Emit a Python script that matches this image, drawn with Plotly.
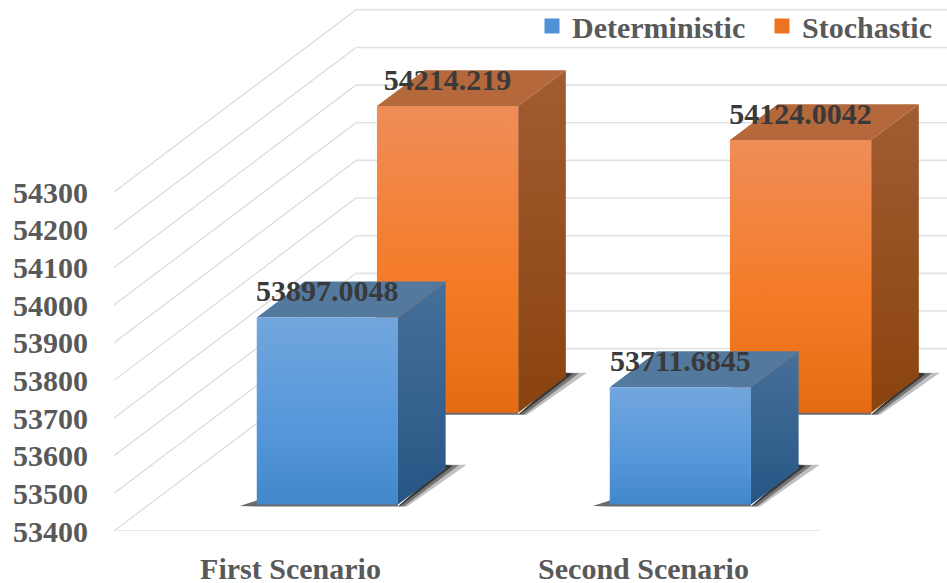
import plotly.graph_objects as go

categories = ["First Scenario", "Second Scenario"]
deterministic = [53897.0048, 53711.6845]
stochastic = [54214.219, 54124.0042]
deterministic_labels = ["53897.0048", "53711.6845"]
stochastic_labels = ["54214.219", "54124.0042"]
y_ticks = [53400, 53500, 53600, 53700, 53800, 53900, 54000, 54100, 54200, 54300]

W, H = 947, 583
LEFT, FLOOR = 114, 531.5
PX_PER_CAT = 353.0
PX_PER_VAL = 0.3769
BASE = y_ticks[0]
X0 = -0.5
X_MAX = X0 + (W - LEFT) / PX_PER_CAT
Y_MAX = BASE + FLOOR / PX_PER_VAL
DX = 242 / PX_PER_CAT
DY = 182.5 / PX_PER_VAL
BAR_W = 141.2 / PX_PER_CAT
DEPTH = 0.197
FONT = "Liberation Serif"


def project(x, v, z):
    return x + z * DX, v + z * DY


def grad(top, bottom, mid=None, kind="vertical"):
    # colour position 0 is the bottom of the polygon
    scale = [[0, bottom], [1, top]]
    if mid:
        scale = [[0, bottom], [0.4, mid], [1, top]]
    return dict(type=kind, colorscale=scale)


def poly(pts, gradient=None, color=None):
    xs = [p[0] for p in pts] + [pts[0][0]]
    ys = [p[1] for p in pts] + [pts[0][1]]
    kw = dict(fillgradient=gradient) if gradient else dict(fillcolor=color)
    return go.Scatter(x=xs, y=ys, mode="lines", fill="toself", line=dict(width=0),
                      showlegend=False, hoverinfo="skip", **kw)


fig = go.Figure()

# walls / grid
for v in y_ticks:
    xb, yb = project(X0, v, 1)
    fig.add_trace(go.Scatter(x=[X0, xb], y=[v, yb], mode="lines", cliponaxis=False,
                             line=dict(color="#dadada", width=1.2), showlegend=False, hoverinfo="skip"))
    fig.add_trace(go.Scatter(x=[xb, X_MAX], y=[yb, yb], mode="lines", cliponaxis=False,
                             line=dict(color="#e2e2e2", width=1.6), showlegend=False, hoverinfo="skip"))
fig.add_trace(go.Scatter(x=[X0, 1.5], y=[BASE, BASE], mode="lines", cliponaxis=False,
                         line=dict(color="#e2e2e2", width=1.6), showlegend=False, hoverinfo="skip"))


def add_bar(cat, val, z0, shift, st):
    xl = cat - BAR_W / 2 + shift
    xr = cat + BAR_W / 2 + shift
    z1 = z0 + DEPTH
    fl_b = project(xl, BASE, z0)
    fr_b = project(xr, BASE, z0)
    fr_t = project(xr, val, z0)
    fl_t = project(xl, val, z0)
    br_b = project(xr, BASE, z1)
    br_t = project(xr, val, z1)
    bl_t = project(xl, val, z1)
    px_x = 1 / PX_PER_CAT
    px_y = 1 / PX_PER_VAL
    # shadows
    tip = (br_b[0] + 21 * px_x, br_b[1] + 4 * px_y)
    tip_mid = (br_b[0] + 13 * px_x, br_b[1] + 3.5 * px_y)
    tip_in = (br_b[0] + 7 * px_x, br_b[1] + 3 * px_y)
    low = (fr_b[0], fr_b[1] - 2 * px_y)
    corner = (br_b[0], br_b[1] + 4 * px_y)
    fig.add_trace(poly([low, corner, tip, (fr_b[0] + 9 * px_x, fr_b[1] - 2 * px_y)], color="rgba(130,130,130,0.5)"))
    fig.add_trace(poly([low, corner, tip_mid, (fr_b[0] + 6 * px_x, fr_b[1] - 2 * px_y)], color="rgba(80,80,80,0.65)"))
    fig.add_trace(poly([low, corner, tip_in, (fr_b[0] + 3 * px_x, fr_b[1] - 1 * px_y)], color="rgba(45,45,45,0.85)"))
    fig.add_trace(poly([(fl_b[0] - 17 * px_x, fl_b[1] - 1.5 * px_y), (fl_b[0], fl_b[1] + 4 * px_y),
                        (fr_b[0], fr_b[1] + 4 * px_y), (fr_b[0], fr_b[1] - 2 * px_y),
                        (fl_b[0], fl_b[1] - 2 * px_y)],
                       color="rgba(70,70,70,0.8)"))
    # faces
    fig.add_trace(poly([fr_b, br_b, br_t, fr_t], gradient=grad(*st["side"])))
    fig.add_trace(poly([fl_t, fr_t, br_t, bl_t], color=st["top"]))
    fig.add_trace(poly([fl_b, fr_b, fr_t, fl_t], gradient=grad(*st["front"])))


BLUE = dict(front=("#72a6dd", "#4287cb", "#5597da"), side=("#47709a", "#275684"), top="#53799f")
ORANGE = dict(front=("#ef8d58", "#e46b14", "#f57a25"), side=("#a25c33", "#8a430d"), top="#b4683b")

for i in range(len(categories)):
    add_bar(i, stochastic[i], 0.649, 0, ORANGE)
for i in range(len(categories)):
    add_bar(i, deterministic[i], 0.145, 0.005, BLUE)

LABEL_UP = 23.5 / PX_PER_VAL
for vals, labels, z, shift in [(stochastic, stochastic_labels, 0.649, 0),
                               (deterministic, deterministic_labels, 0.145, 0.005)]:
    xs, ys = [], []
    for i, v in enumerate(vals):
        x, y = project(i + shift, v, z)
        xs.append(x)
        ys.append(y + LABEL_UP)
    fig.add_trace(go.Scatter(x=xs, y=ys, text=labels, mode="text", textposition="middle center",
                             textfont=dict(family=FONT, size=30, color="#3a3a3a", weight="bold"),
                             showlegend=False, hoverinfo="skip"))

# legend entries, one legend each so that both can be placed
for name, col, leg in [("Deterministic", "#4f93d6", "legend"), ("Stochastic", "#ee7320", "legend2")]:
    fig.add_trace(go.Scatter(x=[None], y=[None], mode="markers", name=name, legend=leg,
                             marker=dict(symbol="square", size=15, color=col)))


def legend_at(px):
    return dict(x=(px - LEFT) / (W - LEFT), xanchor="left", y=1, yanchor="top",
                bgcolor="rgba(0,0,0,0)", borderwidth=0,
                font=dict(family=FONT, size=30, color="#595959", weight="bold"))


fig.update_layout(
    width=W, height=H, autosize=False,
    margin=dict(l=LEFT, r=0, t=0, b=H - FLOOR, pad=0),
    paper_bgcolor="white", plot_bgcolor="white",
    font=dict(family=FONT, size=30, color="#595959", weight="bold"),
    showlegend=True,
    legend=legend_at(532),
    legend2=legend_at(762),
    xaxis=dict(range=[X0, X_MAX], tickmode="array", tickvals=list(range(len(categories))),
               ticktext=categories, showgrid=False, zeroline=False, showline=False,
               ticks="", tickangle=0, ticklabelstandoff=17, automargin=False),
    yaxis=dict(range=[BASE, Y_MAX], tickmode="array", tickvals=y_ticks,
               ticktext=[str(t) for t in y_ticks], showgrid=False, zeroline=False,
               showline=False, ticks="", ticklabelstandoff=25, automargin=False),
)

# the page's default body margin would shift and clip the figure
fig.write_html("out.html", config={"displayModeBar": False},
               post_script="document.body.style.margin='0';document.body.style.overflow='hidden';")
